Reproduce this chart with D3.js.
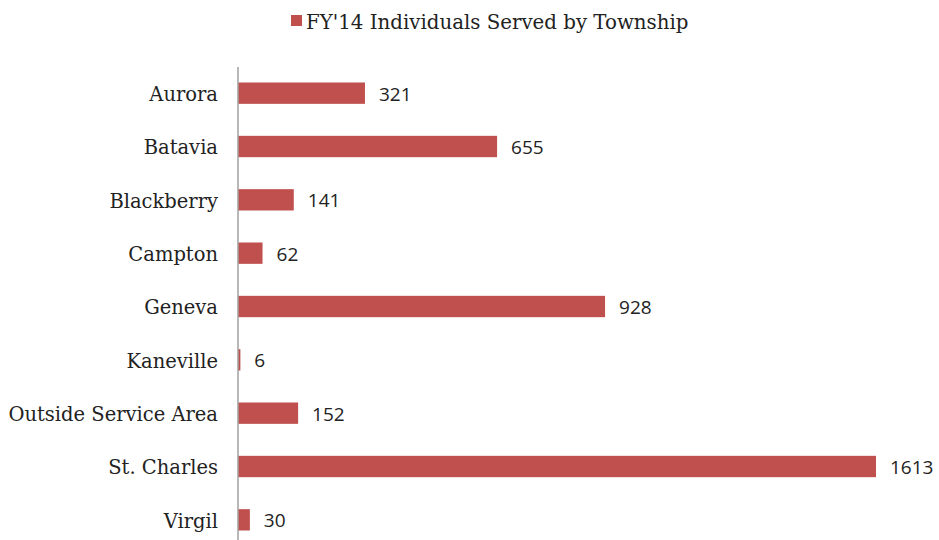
<!DOCTYPE html>
<html>
<head>
<meta charset="utf-8">
<script src="https://cdn.jsdelivr.net/npm/d3@7"></script>
<style>
  body { margin: 0; background: #fff; }
</style>
</head>
<body>
<svg id="chart" width="939" height="540"></svg>
<script>
const svg = d3.select("#chart");

// Data
const townships = ["Aurora", "Batavia", "Blackberry", "Campton", "Geneva", "Kaneville",
  "Outside Service Area", "St. Charles", "Virgil"];
const served = [321, 655, 141, 62, 928, 6, 152, 1613, 30];
const seriesName = "FY'14 Individuals Served by Township";

const barColor = "#c0504d";
const serif = "'DejaVu Serif', Georgia, serif";

const x = d3.scaleLinear().domain([0, 1613]).range([238, 876]);
const y = d3.scaleBand().domain(townships).range([66.5, 546.5]).paddingInner(0.6).paddingOuter(0.3);

// Bars
svg.append("g")
  .selectAll("rect")
  .data(townships)
  .join("rect")
  .attr("x", x(0))
  .attr("y", d => y(d))
  .attr("width", (d, i) => x(served[i]) - x(0))
  .attr("height", y.bandwidth())
  .attr("fill", barColor);

// Value labels
svg.append("g")
  .selectAll("text")
  .data(townships)
  .join("text")
  .attr("x", (d, i) => x(served[i]) + 14)
  .attr("y", d => y(d) + y.bandwidth() / 2 + 1)
  .attr("dy", "0.35em")
  .attr("font-family", "'Open Sans', sans-serif")
  .attr("font-size", 19)
  .attr("fill", "#222")
  .text((d, i) => served[i]);

// Category axis
const axis = svg.append("g")
  .attr("transform", `translate(${x(0)},0)`)
  .call(d3.axisLeft(y).tickSize(0).tickPadding(20));
axis.select(".domain").attr("stroke", "#a0a0a0").attr("stroke-width", 1.5)
  .attr("d", "M0,67V540");
axis.selectAll("text")
  .attr("font-family", serif)
  .attr("font-size", 19.5)
  .attr("dy", "0.4em")
  .attr("fill", "#222");

// Legend
const legend = svg.append("g");
legend.append("rect")
  .attr("x", 291).attr("y", 15).attr("width", 11).attr("height", 11)
  .attr("fill", barColor);
legend.append("text")
  .attr("x", 306).attr("y", 29)
  .attr("font-family", serif)
  .attr("font-size", 19.8)
  .attr("fill", "#222")
  .text(seriesName);
</script>
</body>
</html>
